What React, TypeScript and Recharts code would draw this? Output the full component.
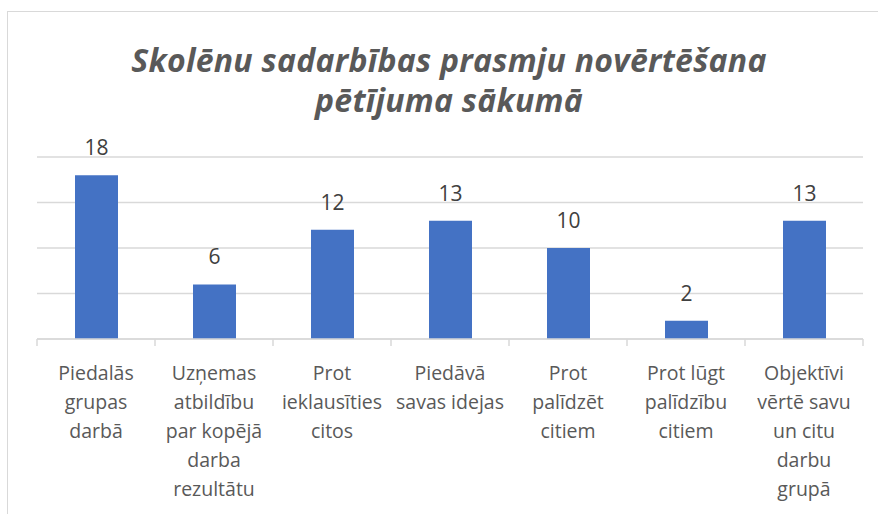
import React from 'react';
import { BarChart, Bar, XAxis, YAxis, CartesianGrid, LabelList } from 'recharts';

const categories = [
    'Piedalās\ngrupas\ndarbā',
    'Uzņemas\natbildību\npar kopējā\ndarba\nrezultātu',
    'Prot\nieklausīties\ncitos',
    'Piedāvā\nsavas idejas',
    'Prot\npalīdzēt\ncitiem',
    'Prot lūgt\npalīdzību\ncitiem',
    'Objektīvi\nvērtē savu\nun citu\ndarbu\ngrupā',
];
const values = [18, 6, 12, 13, 10, 2, 13];
const yTicks = [0, 5, 10, 15, 20];
const frameTicks = [0, 1, 2, 3, 4, 5, 6, 7];

const titleLines = ['Skolēnu sadarbības prasmju novērtēšana', 'pētījuma sākumā'];

const data = categories.map((name, i) => ({ name, value: values[i], pos: i + 0.5 }));

const FONT = '"Open Sans", "Noto Sans", sans-serif';

const CategoryTick = (props: any) => {
    const { x, y, payload } = props;
    const lines = String(payload.value).split('\n');
    return (
        <text x={x} y={y} textAnchor="middle" fill="#595959" fontSize={19.5} fontFamily={FONT}>
            {lines.map((line, i) => (
                <tspan key={i} x={x} dy={i === 0 ? 33 : 29}>{line}</tspan>
            ))}
        </text>
    );
};

const App: React.FC = () => {
    return (
        <div style={{ position: 'absolute', left: 0, top: 0, width: 878, height: 514, background: '#fff' }}>
            <div style={{ position: 'absolute', left: 7, top: 11, right: 0, bottom: 0, borderTop: '1px solid #D9D9D9', borderLeft: '1px solid #D9D9D9' }} />
            <div style={{ position: 'absolute', left: 0, top: 40, width: 898, textAlign: 'center', fontFamily: FONT, fontWeight: 700, fontStyle: 'italic', fontSize: 32, letterSpacing: 0.25, lineHeight: '40px', color: '#595959' }}>
                {titleLines.map((l, i) => <div key={i}>{l}</div>)}
            </div>
            <div style={{ position: 'absolute', left: 0, top: 0 }}>
                <BarChart width={878} height={514} data={data} margin={{ top: 157, right: 15, left: 37, bottom: 0 }}>
                    <CartesianGrid vertical={false} stroke="#D9D9D9" strokeWidth={1.5} xAxisId="b" />
                    <XAxis
                        xAxisId="b"
                        dataKey="name"
                        axisLine={false}
                        tickLine={false}
                        interval={0}
                        height={174}
                        tick={<CategoryTick />}
                        tickMargin={1}
                    />
                    <XAxis
                        xAxisId="a"
                        dataKey="pos"
                        type="number"
                        domain={[0, 7]}
                        ticks={frameTicks}
                        tickFormatter={() => ''}
                        tickSize={7}
                        height={1}
                        stroke="#D9D9D9"
                        strokeWidth={1.5}
                        tickLine={{ stroke: '#D9D9D9', strokeWidth: 1.5 }}
                        allowDataOverflow
                    />
                    <YAxis hide domain={[0, 20]} ticks={yTicks} />
                    <Bar xAxisId="b" dataKey="value" fill="#4472C4" barSize={43} isAnimationActive={false}>
                        <LabelList dataKey="value" position="top" offset={20} fill="#404040" fontSize={21} fontFamily={FONT} />
                    </Bar>
                </BarChart>
            </div>
        </div>
    );
};

export default App;
